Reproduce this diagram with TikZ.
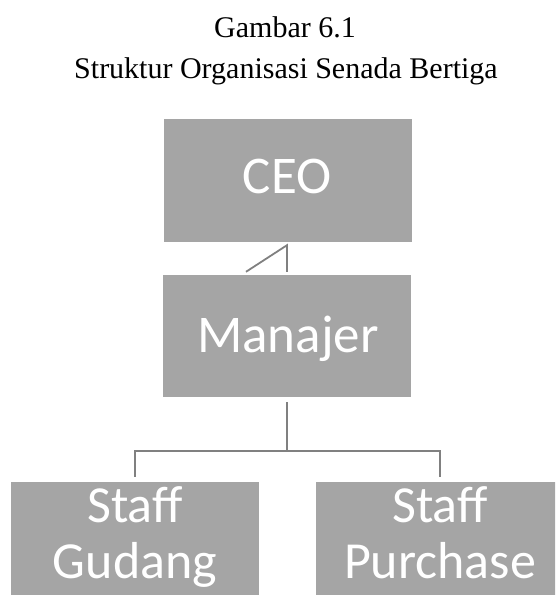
\documentclass[tikz,border=0pt]{standalone}
\usepackage{fontspec}
\usetikzlibrary{calc}
\setmainfont{Liberation Serif}
\newfontfamily\boxfont{Carlito}
\definecolor{boxgray}{HTML}{A5A5A5}
\definecolor{linegray}{HTML}{808080}
\tikzset{
  orgbox/.style={fill=boxgray, draw=none, minimum width=248pt, inner sep=0pt},
  boxtext/.style={anchor=base, text=white, inner sep=0pt, font=\boxfont\fontsize{52}{56}\selectfont},
  bigtext/.style={boxtext, font=\boxfont\fontsize{53}{56}\selectfont},
  captext/.style={anchor=base, inner sep=0pt, font=\fontsize{30}{36}\selectfont},
  conn/.style={draw=linegray, line width=1.8pt}
}
\begin{document}
\begin{tikzpicture}[x=1pt,y=-1pt]
\path[use as bounding box] (0,0) rectangle (555,595);
\clip (0,0) rectangle (555,595);
\node[captext] (cap1) at (285,37) {Gambar 6.1};
\node[captext] (cap2) at (286,78) {Struktur Organisasi Senada Bertiga};
% boxes
\node[orgbox, minimum height=123pt] (ceo) at (287.5,180.5) {};
\node[orgbox, minimum height=122pt] (man) at (287,336) {};
\node[orgbox, minimum height=140pt] (sg) at (135,552) {};
\node[orgbox, minimum height=140pt] (sp) at (440,552) {};
% texts
\node[bigtext] (ceoT) at (287,193) {CEO};
\node[bigtext] (manT) at (288,352) {Manajer};
\node[boxtext] (sgT1) at (135,522) {Staff};
\node[boxtext] (sgT2) at (135,578) {Gudang};
\node[boxtext] (spT1) at (440,522) {Staff};
\node[boxtext] (spT2) at (440,578) {Purchase};
% connectors
\coordinate (cm1) at ($(man.north)+(-41,-3)$);
\coordinate (cm2) at ($(ceo.south)+(-0.5,3)$);
\coordinate (cm3) at ($(man.north)+(0,-3)$);
\draw[conn] (cm1) -- (cm2) -- (cm3);
\coordinate (bus) at (287,451);
\draw[conn] ([yshift=-5pt]man.south) -- (bus);
\draw[conn] ([yshift=5pt]sg.north) |- (bus) -| ([yshift=5pt]sp.north);
\end{tikzpicture}
\end{document}
